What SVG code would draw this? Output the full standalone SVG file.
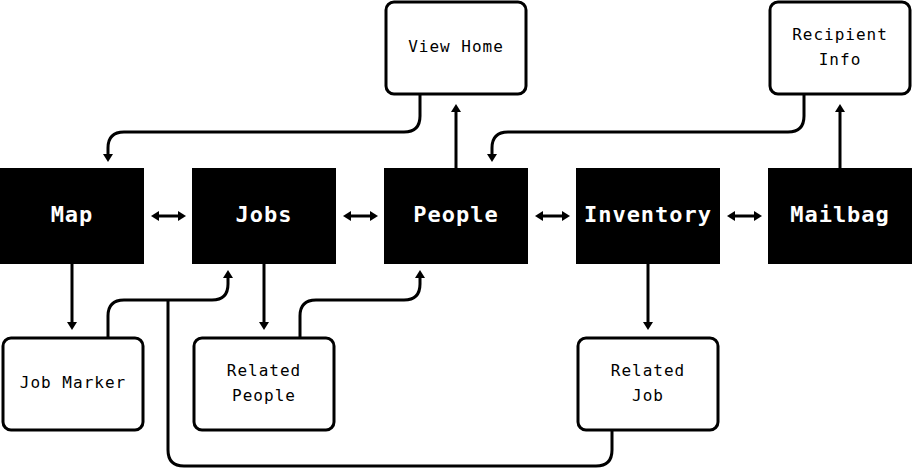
<svg xmlns="http://www.w3.org/2000/svg" width="912" height="470" viewBox="0 0 912 470">
<style>
.main rect{fill:#000}
.main text{fill:#fff;font-family:"DejaVu Sans Mono",monospace;font-weight:bold;font-size:22px;letter-spacing:1px;text-anchor:middle}
.sub rect{fill:#fff;stroke:#000;stroke-width:3}
.sub text{fill:#000;font-family:"DejaVu Sans Mono",monospace;font-size:16px;letter-spacing:1px;text-anchor:middle}
#connectors path{fill:none;stroke:#000;stroke-width:3}
.a{marker-end:url(#ah)}
.d{marker-start:url(#ah);marker-end:url(#ah)}
</style>
<defs>
<marker id="ah" viewBox="0 0 8 10" refX="3" refY="5" markerWidth="8" markerHeight="10" markerUnits="userSpaceOnUse" orient="auto-start-reverse">
<path d="M0,0 L8,5 L0,10 z" fill="#000"/>
</marker>
</defs>
<g id="connectors">
<path class="d" d="M156,216 H181"/>
<path class="d" d="M348,216 H373"/>
<path class="d" d="M540,216 H565"/>
<path class="d" d="M732,216 H757"/>
<path class="a" d="M72,264 V325"/>
<path class="a" d="M264,264 V325"/>
<path class="a" d="M648,264 V325"/>
<path class="a" d="M108,338 V316 Q108,300 124,300 H212 Q228,300 228,284 V275"/>
<path d="M612,430 V450 Q612,466 596,466 H184 Q168,466 168,450 V300"/>
<path class="a" d="M300,338 V316 Q300,300 316,300 H404 Q420,300 420,284 V275"/>
<path class="a" d="M456,168 V109"/>
<path class="a" d="M420,95 V116 Q420,132 404,132 H124 Q108,132 108,148 V157"/>
<path class="a" d="M840,168 V109"/>
<path class="a" d="M804,95 V116 Q804,132 788,132 H508 Q492,132 492,148 V157"/>
</g>
<g id="map" class="main"><rect x="0" y="168" width="144" height="96"/><text x="72" y="222">Map</text></g>
<g id="jobs" class="main"><rect x="192" y="168" width="144" height="96"/><text x="264" y="222">Jobs</text></g>
<g id="people" class="main"><rect x="384" y="168" width="144" height="96"/><text x="456" y="222">People</text></g>
<g id="inventory" class="main"><rect x="576" y="168" width="144" height="96"/><text x="648" y="222">Inventory</text></g>
<g id="mailbag" class="main"><rect x="768" y="168" width="144" height="96"/><text x="840" y="222">Mailbag</text></g>
<g id="view-home" class="sub"><rect x="386" y="2" width="140" height="92" rx="8"/><text x="456" y="52">View Home</text></g>
<g id="recipient-info" class="sub"><rect x="770" y="2" width="140" height="92" rx="8"/><text x="840" y="40">Recipient</text><text x="840" y="65">Info</text></g>
<g id="job-marker" class="sub"><rect x="3" y="338" width="140" height="92" rx="8"/><text x="73" y="388">Job Marker</text></g>
<g id="related-people" class="sub"><rect x="194" y="338" width="140" height="92" rx="8"/><text x="264" y="376">Related</text><text x="264" y="401">People</text></g>
<g id="related-job" class="sub"><rect x="578" y="338" width="140" height="92" rx="8"/><text x="648" y="376">Related</text><text x="648" y="401">Job</text></g>
</svg>
